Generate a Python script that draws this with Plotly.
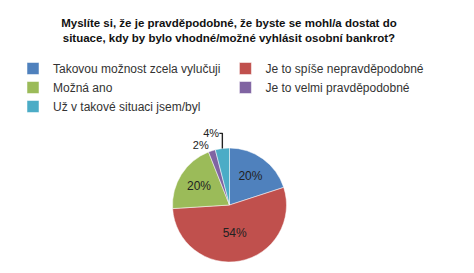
import plotly.graph_objects as go

labels = ["Takovou možnost zcela vylučuji", "Je to spíše nepravděpodobné", "Možná ano",
          "Je to velmi pravděpodobné", "Už v takové situaci jsem/byl"]
values = [20, 54, 20, 2, 4]
colors = ["#4F81BD", "#C0504D", "#9BBB59", "#8064A2", "#4BACC6"]
title = "Myslíte si, že je pravděpodobné, že byste se mohl/a dostat do<br>situace, kdy by bylo vhodné/možné vyhlásit osobní bankrot?"

W, H = 474, 273
cx, cy, r = 229.5, 205, 57

fig = go.Figure(go.Pie(
    labels=labels, values=values, sort=False, direction="clockwise", rotation=0,
    marker=dict(colors=colors, line=dict(color="white", width=0.5)),
    texttemplate="%{percent:.0%}", textposition=["inside", "inside", "inside", "outside", "outside"],
    insidetextorientation="horizontal",
    textfont=dict(family="Liberation Sans, Arial", size=12, color="#222222"),
    outsidetextfont=dict(family="Liberation Sans, Arial", size=11, color="#222222"),
    automargin=False,
    domain=dict(x=[(cx - r) / W, (cx + r) / W], y=[(H - cy - r) / H, (H - cy + r) / H]),
))
fig.update_layout(
    width=W, height=H, margin=dict(l=0, r=0, t=0, b=0),
    paper_bgcolor="white", plot_bgcolor="white",
    title=dict(text="<b>" + title + "</b>", x=0.483, xanchor="center", y=1 - 27 / H, yanchor="middle",
               font=dict(family="Liberation Sans, Arial", size=11.5, color="#111111")),
    legend=dict(orientation="h", x=13 / W, xanchor="left", y=1 - 54 / H, yanchor="top",
                itemwidth=30,
                font=dict(family="Liberation Sans, Arial", size=12, color="#333333"),
                traceorder="normal"),
)
fig.write_html("out.html")
